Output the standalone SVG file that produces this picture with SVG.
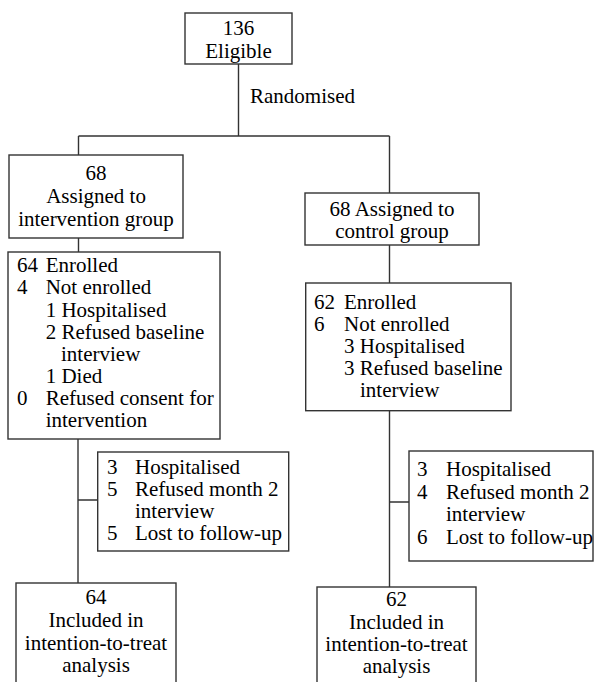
<svg xmlns="http://www.w3.org/2000/svg" width="594" height="682" viewBox="0 0 594 682">
<rect width="594" height="682" fill="#ffffff"/>
<g id="connectors" fill="none" stroke="#333333" stroke-width="1.4">
  <path d="M238.5,64 V136 M78.5,136 H389.5 M78.5,136 V155 M389.5,136 V193"/>
  <path d="M78.5,238 V252 M389.5,245 V283"/>
  <path d="M78,439 V583 M78,500 H97.7"/>
  <path d="M389.5,410.7 V587 M389.5,502 H409"/>
</g>
<g id="eligible">
  <rect x="185" y="13" width="107" height="51" fill="#ffffff" stroke="#333333" stroke-width="1.4"/>
  <text font-family="Liberation Serif" font-size="21" text-anchor="middle" x="238.5" y="35">136</text>
  <text font-family="Liberation Serif" font-size="21" text-anchor="middle" x="238.5" y="58">Eligible</text>
</g>
<g id="randomised-label">
  <text font-family="Liberation Serif" font-size="21" x="250" y="103">Randomised</text>
</g>
<g id="intervention">
  <rect x="9" y="155" width="174" height="83" fill="#ffffff" stroke="#333333" stroke-width="1.4"/>
  <text font-family="Liberation Serif" font-size="21" text-anchor="middle" x="96" y="180">68</text>
  <text font-family="Liberation Serif" font-size="21" text-anchor="middle" x="96" y="203">Assigned to</text>
  <text font-family="Liberation Serif" font-size="21" text-anchor="middle" x="96" y="226">intervention group</text>
</g>
<g id="control">
  <rect x="305" y="193" width="174" height="52" fill="#ffffff" stroke="#333333" stroke-width="1.4"/>
  <text font-family="Liberation Serif" font-size="21" text-anchor="middle" x="392" y="216">68 Assigned to</text>
  <text font-family="Liberation Serif" font-size="21" text-anchor="middle" x="392" y="238">control group</text>
</g>
<g id="enrolled-intervention">
  <rect x="8" y="252" width="212" height="187" fill="#ffffff" stroke="#333333" stroke-width="1.4"/>
  <text font-family="Liberation Serif" font-size="21" x="17" y="272">64</text>
  <text font-family="Liberation Serif" font-size="21" x="45.7" y="272">Enrolled</text>
  <text font-family="Liberation Serif" font-size="21" x="17" y="294">4</text>
  <text font-family="Liberation Serif" font-size="21" x="45.7" y="294">Not enrolled</text>
  <text font-family="Liberation Serif" font-size="21" x="45.7" y="317">1 Hospitalised</text>
  <text font-family="Liberation Serif" font-size="21" x="45.7" y="339">2 Refused baseline</text>
  <text font-family="Liberation Serif" font-size="21" x="61" y="361">interview</text>
  <text font-family="Liberation Serif" font-size="21" x="45.7" y="383">1 Died</text>
  <text font-family="Liberation Serif" font-size="21" x="17" y="405">0</text>
  <text font-family="Liberation Serif" font-size="21" x="45.7" y="405">Refused consent for</text>
  <text font-family="Liberation Serif" font-size="21" x="45.7" y="427">intervention</text>
</g>
<g id="enrolled-control">
  <rect x="305.7" y="283" width="205.3" height="127.7" fill="#ffffff" stroke="#333333" stroke-width="1.4"/>
  <text font-family="Liberation Serif" font-size="21" x="314" y="309">62</text>
  <text font-family="Liberation Serif" font-size="21" x="344" y="309">Enrolled</text>
  <text font-family="Liberation Serif" font-size="21" x="314" y="331">6</text>
  <text font-family="Liberation Serif" font-size="21" x="344" y="331">Not enrolled</text>
  <text font-family="Liberation Serif" font-size="21" x="344" y="353">3 Hospitalised</text>
  <text font-family="Liberation Serif" font-size="21" x="344" y="375">3 Refused baseline</text>
  <text font-family="Liberation Serif" font-size="21" x="360" y="397">interview</text>
</g>
<g id="lost-intervention">
  <rect x="97.7" y="452" width="191" height="99" fill="#ffffff" stroke="#333333" stroke-width="1.4"/>
  <text font-family="Liberation Serif" font-size="21" x="107" y="474">3</text>
  <text font-family="Liberation Serif" font-size="21" x="135" y="474">Hospitalised</text>
  <text font-family="Liberation Serif" font-size="21" x="107" y="496">5</text>
  <text font-family="Liberation Serif" font-size="21" x="135" y="496">Refused month 2</text>
  <text font-family="Liberation Serif" font-size="21" x="135" y="518">interview</text>
  <text font-family="Liberation Serif" font-size="21" x="107" y="540">5</text>
  <text font-family="Liberation Serif" font-size="21" x="135" y="540">Lost to follow-up</text>
</g>
<g id="lost-control">
  <rect x="409" y="451" width="184" height="110" fill="#ffffff" stroke="#333333" stroke-width="1.4"/>
  <text font-family="Liberation Serif" font-size="21" x="417" y="476">3</text>
  <text font-family="Liberation Serif" font-size="21" x="446" y="476">Hospitalised</text>
  <text font-family="Liberation Serif" font-size="21" x="417" y="498.5">4</text>
  <text font-family="Liberation Serif" font-size="21" x="446" y="498.5">Refused month 2</text>
  <text font-family="Liberation Serif" font-size="21" x="446" y="520.5">interview</text>
  <text font-family="Liberation Serif" font-size="21" x="417" y="544">6</text>
  <text font-family="Liberation Serif" font-size="21" x="446" y="544">Lost to follow-up</text>
</g>
<g id="itt-intervention">
  <rect x="16" y="583" width="160" height="110" fill="#ffffff" stroke="#333333" stroke-width="1.4"/>
  <text font-family="Liberation Serif" font-size="21" text-anchor="middle" x="96" y="604">64</text>
  <text font-family="Liberation Serif" font-size="21" text-anchor="middle" x="96" y="627">Included in</text>
  <text font-family="Liberation Serif" font-size="21" text-anchor="middle" x="96" y="650">intention-to-treat</text>
  <text font-family="Liberation Serif" font-size="21" text-anchor="middle" x="96" y="672">analysis</text>
</g>
<g id="itt-control">
  <rect x="317" y="587" width="159" height="110" fill="#ffffff" stroke="#333333" stroke-width="1.4"/>
  <text font-family="Liberation Serif" font-size="21" text-anchor="middle" x="396.5" y="606">62</text>
  <text font-family="Liberation Serif" font-size="21" text-anchor="middle" x="396.5" y="629">Included in</text>
  <text font-family="Liberation Serif" font-size="21" text-anchor="middle" x="396.5" y="651">intention-to-treat</text>
  <text font-family="Liberation Serif" font-size="21" text-anchor="middle" x="396.5" y="673">analysis</text>
</g>
</svg>
